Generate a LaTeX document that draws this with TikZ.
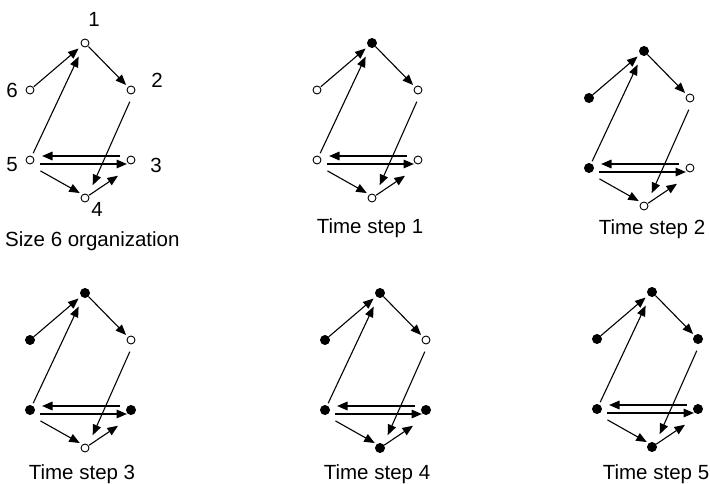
\documentclass[tikz,border=0pt]{standalone}
\usepackage{fontspec}
\setmainfont{Liberation Sans}
\usetikzlibrary{arrows.meta}
\tikzset{
  opn/.style={circle,draw,fill=white,line width=0.9pt,inner sep=0pt,minimum size=8pt},
  fld/.style={circle,draw,fill=black,line width=0.9pt,inner sep=0pt,minimum size=9pt},
  arr/.style={-{Triangle[length=10.5pt,width=8.5pt]},line width=1.1pt},
  harr/.style={arr,line width=1.6pt},
  lbl/.style={font=\fontsize{20.5}{24}\selectfont,inner sep=0pt},
}
% #1 prefix, #2 dx, #3 dy, #4..#9 styles of nodes 1..6
\newcommand{\orgpanel}[9]{%
  \begin{scope}[shift={(#2,#3)}]
    \node[#4] (#1n1) at (85,43) {};
    \node[#5] (#1n2) at (131,90) {};
    \node[#6] (#1n3) at (131,160) {};
    \node[#7] (#1n4) at (85,198) {};
    \node[#8] (#1n5) at (30,160) {};
    \node[#9] (#1n6) at (30,90) {};
    \draw[arr,shorten <=5pt,shorten >=8.5pt] (#1n6.center) -- (#1n1.center);
    \draw[arr,shorten <=7.5pt,shorten >=15pt] (#1n5.center) -- (#1n1.center);
    \draw[arr,shorten <=5pt,shorten >=7pt] (#1n1.center) -- (#1n2.center);
    \draw[arr,shorten <=12.8pt,shorten >=14pt] ([xshift=4pt]#1n2.center) -- ([xshift=2pt]#1n4.center);
    \draw[harr,shorten <=11pt,shorten >=12pt] ([yshift=4pt]#1n3.center) -- ([yshift=4pt]#1n5.center);
    \draw[harr,shorten <=10pt,shorten >=4pt] ([yshift=-4pt]#1n5.center) -- ([yshift=-4pt]#1n3.center);
    \draw[arr,shorten <=12pt,shorten >=6pt] ([yshift=-5pt]#1n5.center) -- ([yshift=2pt]#1n4.center);
    \draw[arr,shorten <=5pt,shorten >=15.7pt] (#1n4.center) -- ([yshift=-7pt]#1n3.center);
  \end{scope}}
\begin{document}
\begin{tikzpicture}[x=1pt,y=-1pt]
  \useasboundingbox (0,0) rectangle (710,484);
  \orgpanel{a}{0}{0}{opn}{opn}{opn}{opn}{opn}{opn}
  \orgpanel{b}{287}{0}{fld}{opn}{opn}{opn}{opn}{opn}
  \orgpanel{c}{559}{8}{fld}{opn}{opn}{opn}{fld}{fld}
  \orgpanel{d}{0}{250}{fld}{opn}{fld}{opn}{fld}{fld}
  \orgpanel{e}{295}{250}{fld}{opn}{fld}{fld}{fld}{fld}
  \orgpanel{f}{567}{249}{fld}{fld}{fld}{fld}{fld}{fld}
  \node[lbl] (t1) at (94,19) {1};
  \node[lbl] (t2) at (157,80) {2};
  \node[lbl] (t3) at (156,165) {3};
  \node[lbl] (t4) at (97,209) {4};
  \node[lbl] (t5) at (12,165) {5};
  \node[lbl] (t6) at (12,90) {6};
  \node[lbl,anchor=west] (cap0) at (5,241) {Size 6 organization};
  \node[lbl] (cap1) at (370,228) {Time step 1};
  \node[lbl] (cap2) at (652,229) {Time step 2};
  \node[lbl] (cap3) at (82,474) {Time step 3};
  \node[lbl] (cap4) at (377,474) {Time step 4};
  \node[lbl] (cap5) at (656,474) {Time step 5};
\end{tikzpicture}
\end{document}
